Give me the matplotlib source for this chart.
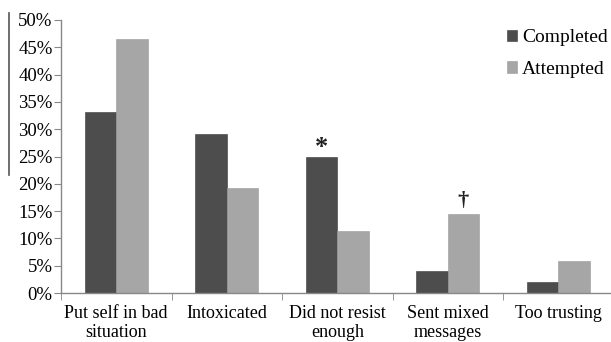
import matplotlib.pyplot as plt
import numpy as np

categories = ['Put self in bad\nsituation', 'Intoxicated', 'Did not resist\nenough',
              'Sent mixed\nmessages', 'Too trusting']
completed = [33.1, 29.2, 25.0, 4.1, 2.1]
attempted = [46.5, 19.3, 11.4, 14.5, 5.8]
markers = ['', '', '*', '\u2020', '']
y_ticks = [0, 5, 10, 15, 20, 25, 30, 35, 40, 45, 50]

plt.rcParams['font.family'] = ['Liberation Serif', 'DejaVu Serif']

fig = plt.figure(figsize=(6.11, 3.42), dpi=100)
ax = fig.add_axes([61/611, 49/342, 552.5/611, 273/342])

x = np.arange(len(categories))
w = 0.285
ax.bar(x - w/2, completed, w, color='#4d4d4d', edgecolor='#3a3a3a', lw=0.4, label='Completed')
ax.bar(x + w/2, attempted, w, color='#a6a6a6', edgecolor='#999999', lw=0.4, label='Attempted')

# significance markers
ax.text(2 - w/2, completed[2] + 1.7, markers[2], ha='center', va='center', fontsize=19,
        fontweight='bold', color='#222222')
ax.text(3 + w/2, attempted[3] + 2.4, markers[3], ha='center', va='center', fontsize=16,
        fontweight='bold', color='#222222')

ax.set_xlim(-0.5, 4.5)
ax.set_ylim(0, 50)
ax.set_yticks(y_ticks)
ax.set_yticklabels([f'{v}%' for v in y_ticks], fontsize=13.5)
ax.set_xticks(x)
ax.set_xticklabels(categories, fontsize=13, linespacing=1.1)
ax.set_xticks(np.arange(-0.5, 5, 1), minor=True)
ax.tick_params(axis='x', which='major', length=0, pad=9)
ax.tick_params(axis='x', which='minor', length=5, color='#888888', direction='out')
ax.tick_params(axis='y', length=5, color='#888888', pad=1)

for s in ['top', 'right']:
    ax.spines[s].set_visible(False)
for s in ['left', 'bottom']:
    ax.spines[s].set_color('#888888')
    ax.spines[s].set_linewidth(1)

ax.legend(loc='upper left', bbox_to_anchor=(0.775, 1.03), frameon=False, fontsize=14,
          handlelength=0.55, handleheight=0.55, handletextpad=0.25, labelspacing=0.75)

# stray vertical line at the left edge of the source image
fig.add_artist(plt.Line2D([9/611, 9/611], [1 - 13/342, 1 - 175/342], color='#555555', lw=1.2))

fig.savefig('out.png', dpi=100)
